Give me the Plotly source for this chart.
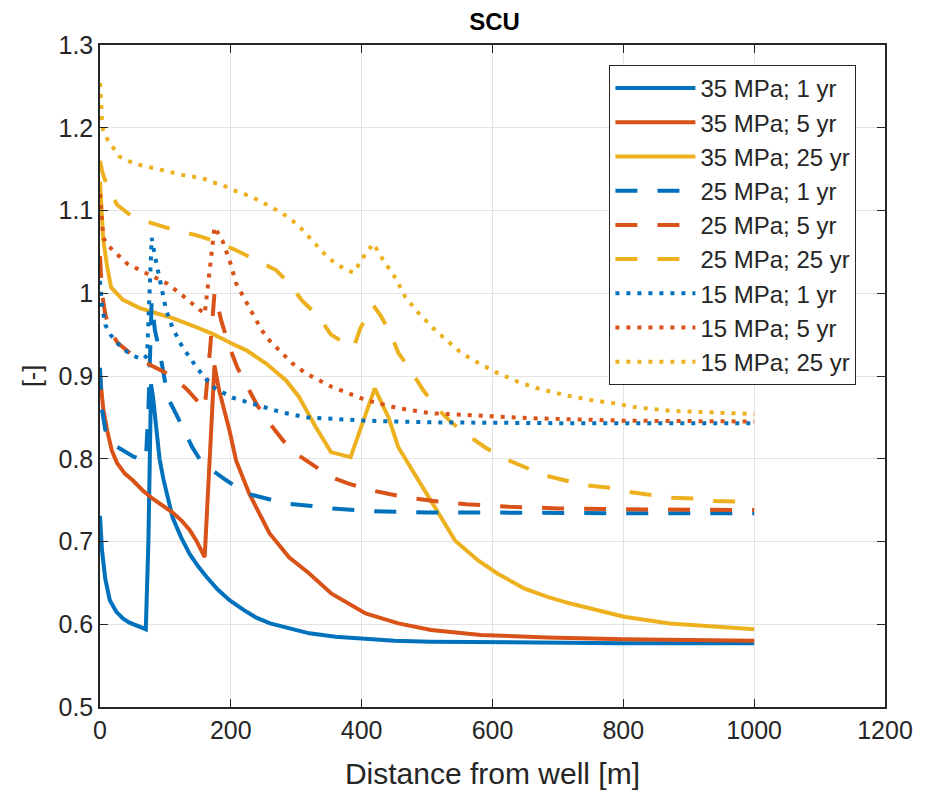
import plotly.graph_objects as go

# ---------------- data ----------------
x_35_1 = [0, 3, 8, 15, 25, 35, 45, 56, 64, 70, 74, 78, 81, 86, 91, 97, 103, 111, 124, 137, 150, 163, 180, 198, 220, 239, 260, 289, 320, 360, 406, 450, 506, 600, 700, 800, 900, 1000]
y_35_1 = [0.731, 0.69, 0.655, 0.629, 0.615, 0.607, 0.602, 0.598, 0.596, 0.594, 0.70, 0.89, 0.875, 0.835, 0.80, 0.775, 0.755, 0.729, 0.705, 0.685, 0.67, 0.657, 0.642, 0.629, 0.617, 0.608, 0.601, 0.595, 0.589, 0.585, 0.582, 0.580, 0.579, 0.578, 0.577, 0.577, 0.577, 0.577]

x_35_5 = [0, 5, 11, 18, 26, 38, 50, 65, 80, 95, 111, 125, 137, 148, 155, 160, 175, 182, 198, 208, 228, 259, 289, 319, 354, 406, 456, 506, 582, 684, 800, 900, 1000]
y_35_5 = [0.90, 0.86, 0.834, 0.81, 0.795, 0.782, 0.774, 0.762, 0.752, 0.744, 0.735, 0.725, 0.714, 0.70, 0.69, 0.681, 0.913, 0.883, 0.834, 0.798, 0.758, 0.71, 0.681, 0.662, 0.637, 0.613, 0.601, 0.593, 0.587, 0.584, 0.582, 0.581, 0.580]

x_35_25 = [0, 3, 5, 11, 17, 35, 61, 81, 111, 141, 172, 202, 224, 254, 284, 304, 330, 353, 383, 420, 441, 456, 487, 517, 543, 578, 608, 649, 684, 719, 801, 871, 954, 1000]
y_35_25 = [1.135, 1.09, 1.064, 1.032, 1.007, 0.992, 0.982, 0.977, 0.97, 0.961, 0.951, 0.939, 0.931, 0.915, 0.895, 0.875, 0.838, 0.808, 0.802, 0.885, 0.85, 0.814, 0.774, 0.734, 0.701, 0.677, 0.661, 0.643, 0.633, 0.625, 0.609, 0.601, 0.596, 0.594]

x_25_1 = [0, 3, 8, 15, 25, 35, 50, 60, 70, 74, 79, 84, 91, 99, 106, 117, 125, 141, 152, 172, 193, 224, 254, 284, 324, 354, 405, 450, 500, 600, 700, 800, 1000]
y_25_1 = [0.91, 0.86, 0.835, 0.822, 0.815, 0.81, 0.803, 0.80, 0.797, 0.86, 0.99, 0.955, 0.93, 0.895, 0.87, 0.853, 0.84, 0.814, 0.80, 0.786, 0.774, 0.758, 0.752, 0.746, 0.743, 0.74, 0.737, 0.736, 0.735, 0.735, 0.734, 0.734, 0.734]

x_25_5 = [0, 3, 8, 15, 27, 50, 80, 110, 134, 155, 160, 168, 175, 186, 198, 210, 224, 240, 259, 280, 300, 319, 353, 380, 414, 444, 479, 510, 560, 625, 700, 800, 1000]
y_25_5 = [1.045, 1.0, 0.975, 0.955, 0.94, 0.925, 0.912, 0.9, 0.883, 0.865, 0.86, 0.93, 1.0, 0.965, 0.935, 0.91, 0.888, 0.865, 0.843, 0.822, 0.806, 0.796, 0.778, 0.77, 0.762, 0.757, 0.752, 0.749, 0.745, 0.742, 0.740, 0.739, 0.738]

x_25_25 = [0, 4, 11, 26, 50, 84, 111, 148, 172, 208, 239, 269, 289, 309, 335, 353, 380, 388, 398, 414, 418, 429, 444, 456, 475, 494, 514, 537, 563, 590, 616, 649, 680, 710, 741, 779, 809, 844, 875, 909, 940, 1000]
y_25_25 = [1.16, 1.145, 1.13, 1.107, 1.092, 1.084, 1.077, 1.07, 1.064, 1.052, 1.04, 1.028, 1.012, 0.991, 0.971, 0.95, 0.937, 0.935, 0.958, 0.98, 0.985, 0.973, 0.952, 0.928, 0.907, 0.883, 0.862, 0.844, 0.828, 0.813, 0.801, 0.79, 0.78, 0.774, 0.768, 0.765, 0.76, 0.756, 0.753, 0.752, 0.749, 0.748]

x_15_1 = [0, 3, 8, 16, 26, 40, 55, 66, 72, 76, 79, 84, 91, 101, 111, 126, 148, 172, 202, 239, 278, 315, 406, 506, 700, 1000]
y_15_1 = [1.015, 0.985, 0.962, 0.95, 0.94, 0.93, 0.923, 0.92, 0.925, 1.0, 1.067, 1.045, 1.016, 0.98, 0.958, 0.935, 0.91, 0.887, 0.874, 0.865, 0.856, 0.85, 0.846, 0.844, 0.843, 0.843]

x_15_5 = [0, 2, 5, 12, 20, 41, 61, 81, 102, 122, 141, 160, 168, 175, 187, 198, 208, 224, 239, 254, 274, 293, 315, 354, 406, 456, 506, 558, 658, 800, 1000]
y_15_5 = [1.12, 1.09, 1.067, 1.058, 1.052, 1.036, 1.028, 1.02, 1.012, 1.0, 0.988, 0.975, 1.03, 1.08, 1.064, 1.04, 1.012, 0.988, 0.967, 0.947, 0.931, 0.916, 0.903, 0.887, 0.871, 0.861, 0.855, 0.853, 0.849, 0.846, 0.845]

x_15_25 = [0, 1, 3, 5, 12, 30, 46, 61, 76, 106, 126, 157, 172, 187, 202, 217, 233, 248, 263, 278, 294, 309, 324, 350, 376, 388, 406, 418, 433, 452, 467, 487, 513, 552, 578, 604, 639, 669, 710, 750, 786, 821, 871, 923, 1000]
y_15_25 = [1.254, 1.225, 1.21, 1.197, 1.185, 1.165, 1.159, 1.155, 1.152, 1.146, 1.143, 1.139, 1.134, 1.131, 1.125, 1.121, 1.116, 1.11, 1.104, 1.097, 1.088, 1.077, 1.064, 1.042, 1.028, 1.025, 1.048, 1.06, 1.04, 1.018, 0.995, 0.976, 0.955, 0.928, 0.916, 0.905, 0.893, 0.885, 0.877, 0.871, 0.867, 0.862, 0.858, 0.856, 0.854]

series_names = ["35 MPa; 1 yr", "35 MPa; 5 yr", "35 MPa; 25 yr",
                "25 MPa; 1 yr", "25 MPa; 5 yr", "25 MPa; 25 yr",
                "15 MPa; 1 yr", "15 MPa; 5 yr", "15 MPa; 25 yr"]
series_x = [x_35_1, x_35_5, x_35_25, x_25_1, x_25_5, x_25_25, x_15_1, x_15_5, x_15_25]
series_y = [y_35_1, y_35_5, y_35_25, y_25_1, y_25_5, y_25_25, y_15_1, y_15_5, y_15_25]

x_tickvals = [0, 200, 400, 600, 800, 1000, 1200]
y_tickvals = [0.5, 0.6, 0.7, 0.8, 0.9, 1.0, 1.1, 1.2, 1.3]
y_ticktext = ["0.5", "0.6", "0.7", "0.8", "0.9", "1", "1.1", "1.2", "1.3"]

# ---------------- styling ----------------
colors = ["#0072BD", "#D95319", "#EDB120"]
dashes = ["solid", "22px,20px", "4px,7px"]
FONT = "Liberation Sans, Arial, sans-serif"
TXT = "#262626"

fig = go.Figure()
for i, (name, xs, ys) in enumerate(zip(series_names, series_x, series_y)):
    fig.add_trace(go.Scatter(
        x=xs, y=ys, name=name, mode="lines",
        line=dict(color=colors[i % 3], width=4, dash=dashes[i // 3]),
    ))

fig.update_layout(
    width=925, height=798,
    margin=dict(l=100, r=36, t=45, b=91),
    paper_bgcolor="white", plot_bgcolor="white",
    font=dict(family=FONT, color=TXT, size=25),
    title=dict(text="<b>SCU</b>", x=0.5 * (100 + 889) / 925, xanchor="center",
               y=1 - 22 / 798, yanchor="middle", yref="container",
               font=dict(size=24, color="black")),
    showlegend=True,
    legend=dict(x=(612 - 100) / 789, y=(707 - 65) / 662, xanchor="left", yanchor="top",
                bgcolor="white", bordercolor="#262626", borderwidth=1,
                font=dict(size=24, color=TXT), itemwidth=80,
                tracegroupgap=0),
)
fig.update_xaxes(
    range=[0, 1200], tickvals=x_tickvals, ticks="inside", ticklen=8,
    tickcolor=TXT, showline=True, linecolor=TXT, linewidth=1.5, mirror="ticks",
    showgrid=True, gridcolor="#e3e3e3", gridwidth=1, zeroline=False,
    tickfont=dict(size=25, color=TXT),
    title=dict(text="Distance from well [m]", font=dict(size=30, color=TXT), standoff=20),
)
fig.update_yaxes(
    range=[0.5, 1.3], tickvals=y_tickvals, ticktext=y_ticktext, ticks="inside", ticklen=8,
    tickcolor=TXT, showline=True, linecolor=TXT, linewidth=1.5, mirror="ticks",
    showgrid=True, gridcolor="#e3e3e3", gridwidth=1, zeroline=False,
    tickfont=dict(size=25, color=TXT),
    title=dict(text="[-]", font=dict(size=25, color=TXT), standoff=10),
)

fig.write_html("out.html")
